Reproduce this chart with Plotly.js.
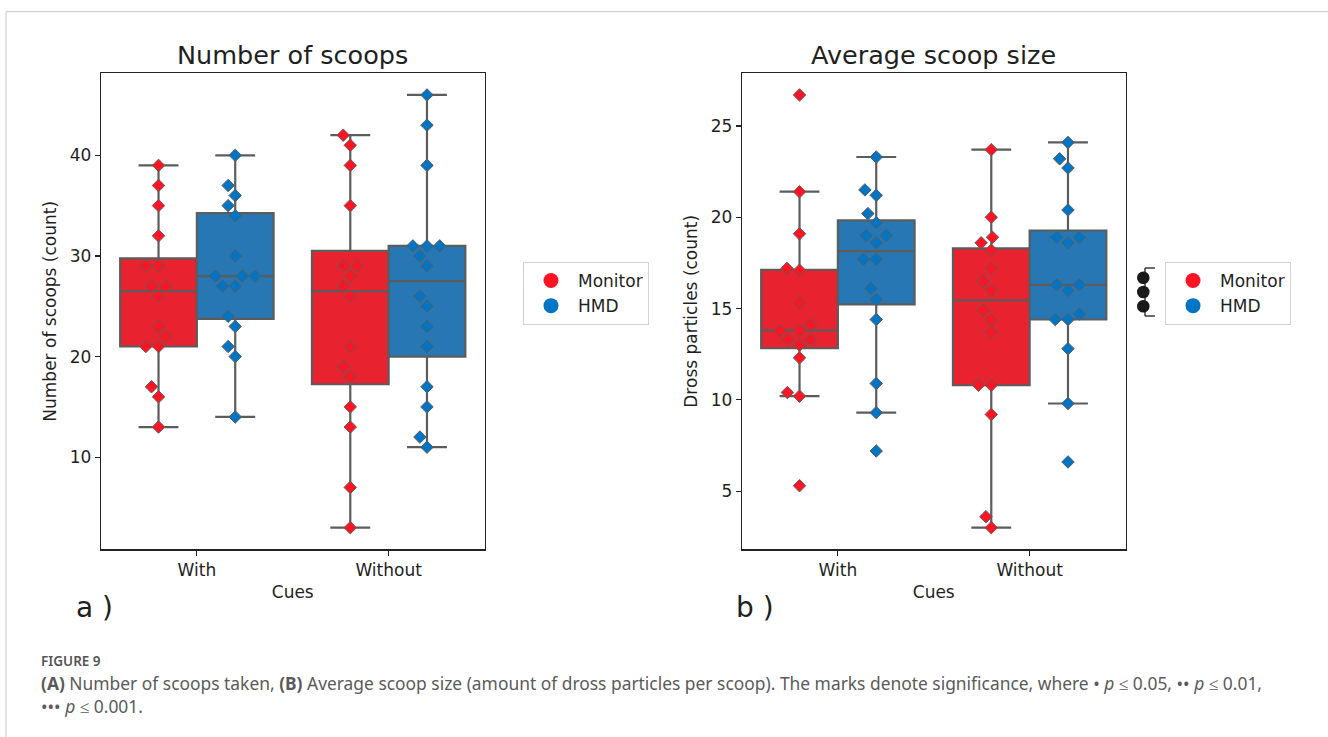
<!DOCTYPE html>
<html><head><meta charset="utf-8">
<script src="https://cdn.plot.ly/plotly-3.0.1.min.js"></script>
<style>html,body{margin:0;padding:0;background:#fff}#chart{width:1328px;height:737px}</style>
</head><body><div id="chart"></div>
<script>
// ---------------- data ----------------
const cues = ['With', 'Without'];
const groups = ['Monitor', 'HMD'];
// (a) Number of scoops
const scoopsMonitorWith    = [39,37,35,32,29,29,27,27,26,23,22,21,21,17,16,13];
const scoopsHmdWith        = [40,37,36,35,34,30,28,28,28,27,27,24,23,21,20,14];
const scoopsMonitorWithout = [42,41,39,35,29,29,28,27,26,21,19,18,15,13,7,3];
const scoopsHmdWithout     = [46,43,39,31,31,31,30,29,26,25,23,21,17,15,12,11];
// (b) Average scoop size (dross particles)
const sizeMonitorWith    = [26.7,21.4,19.1,17.2,17.1,15.3,14.1,13.8,13.8,13.3,13.3,13.0,12.3,10.4,10.2,5.3];
const sizeHmdWith        = [23.3,21.5,21.2,20.2,19.7,19.0,19.0,18.6,17.7,17.7,16.1,15.5,14.4,10.9,9.3,7.2];
const sizeMonitorWithout = [23.7,20.0,18.9,18.6,18.2,17.2,16.5,16.0,14.9,14.4,13.7,10.8,10.8,9.2,3.6,3.0];
const sizeHmdWithout     = [24.1,23.2,22.7,20.4,18.9,18.9,18.6,16.3,16.3,16.0,14.7,14.4,14.4,12.8,9.8,6.6];
const panelTitles = ['Number of scoops', 'Average scoop size'];
const yTitles = ['Number of scoops (count)', 'Dross particles (count)'];
const xTitle = 'Cues';
const panelLabels = ['a )', 'b )'];
const significanceMarksB = 3;   // ••• p <= 0.001
const yTicksA = [10, 20, 30, 40];
const yTicksB = [5, 10, 15, 20, 25];
const figureLabel = 'FIGURE 9';
const captionLines = [
  '<b>(A)</b> Number of scoops taken, <b>(B)</b> Average scoop size (amount of dross particles per scoop). The marks denote significance, where • <i>p</i> ≤ 0.05, •• <i>p</i> ≤ 0.01,',
  '••• <i>p</i> ≤ 0.001.'
];

// ---------------- style / layout constants ----------------
const W = 1328, H = 737;
const FONT = 'DejaVu Sans';
const CAPFONT = 'Noto Sans';
const TXT = '#1f1f1f';
const pointColors = ['#ff1424', '#0274c4'];
const boxColors = ['#e8222f', '#2677b4'];
const EDGE = '#5c5c5c';
const DODGE = 0.2, BOXW = 0.4;
const SWARM_D = 12.1; // px
const domXA = [101/W, 484.5/W], domXB = [742/W, 1125.5/W];
const domY = [(H-549.3)/H, (H-73.3)/H];
const XR = [-0.5, 1.5];
const FS = 17;

function padRange(arrs){
  const all = [].concat(...arrs);
  const mn = Math.min(...all), mx = Math.max(...all), p = (mx-mn)*0.05;
  return [mn-p, mx+p];
}
function pct(s, p){ const idx=(s.length-1)*p, lo=Math.floor(idx), hi=Math.ceil(idx); return s[lo]+(s[hi]-s[lo])*(idx-lo); }
function boxStats(vals){
  const s=[...vals].sort((a,b)=>a-b);
  const q1=pct(s,.25), med=pct(s,.5), q3=pct(s,.75), iqr=q3-q1;
  const lo=s.find(v=>v>=q1-1.5*iqr), hi=[...s].reverse().find(v=>v<=q3+1.5*iqr);
  return {q1,med,q3,lo,hi};
}
function swarm(vals, pxPerY, d){
  const order = vals.map((v,i)=>i).sort((a,b)=>vals[a]-vals[b]);
  const placed=[], off=new Array(vals.length);
  order.forEach(i=>{
    const y=vals[i]*pxPerY, nb=[];
    for(let k=placed.length-1;k>=0;k--){ if(y-placed[k].y < d) nb.unshift(placed[k]); else break; }
    let c=[0], lf=true;
    nb.forEach(n=>{ const dy=y-n.y, dx=Math.sqrt(Math.max(d*d-dy*dy,0))*1.05;
      if(lf) c.push(n.x-dx, n.x+dx); else c.push(n.x+dx, n.x-dx); lf=!lf; });
    c = c.map((v,j)=>({v,j})).sort((a,b)=>(Math.abs(a.v)-Math.abs(b.v))||(a.j-b.j)).map(o=>o.v);
    let x=c[0];
    if(nb.length){ for(const v of c){ if(nb.every(n=>(n.x-v)**2+(n.y-y)**2 >= d*d-1e-9)){x=v;break;} } }
    placed.push({x,y}); off[i]=x;
  });
  return off;
}

const panels = [
  {xa:'x', ya:'y', domX:domXA, data:[[scoopsMonitorWith, scoopsMonitorWithout],[scoopsHmdWith, scoopsHmdWithout]]},
  {xa:'x2', ya:'y2', domX:domXB, data:[[sizeMonitorWith, sizeMonitorWithout],[sizeHmdWith, sizeHmdWithout]]}
];
const traces = [];
panels.forEach((P, pi)=>{
  P.yr = padRange([].concat(...P.data));
  const plotW=(P.domX[1]-P.domX[0])*W, plotH=(domY[1]-domY[0])*H;
  const pxX = plotW/(XR[1]-XR[0]), pxY = plotH/(P.yr[1]-P.yr[0]);
  groups.forEach((g, gi)=>{
    const sgn = gi===0 ? -1 : 1;
    const st = P.data[gi].map(boxStats);
    traces.push({type:'box', xaxis:P.xa, yaxis:P.ya, name:g, showlegend:false,
      x: cues.map((c,ci)=>ci+sgn*DODGE), width:BOXW,
      q1:st.map(s=>s.q1), median:st.map(s=>s.med), q3:st.map(s=>s.q3),
      lowerfence:st.map(s=>s.lo), upperfence:st.map(s=>s.hi),
      boxpoints:false, whiskerwidth:0.52,
      fillcolor:boxColors[gi], line:{color:EDGE, width:2.2}, hoverinfo:'skip'});
  });
  groups.forEach((g, gi)=>{
    const sgn = gi===0 ? -1 : 1;
    const xs=[], ys=[];
    P.data[gi].forEach((vals, ci)=>{
      const off = swarm(vals, pxY, SWARM_D);
      vals.forEach((v,k)=>{ xs.push(ci+sgn*DODGE+off[k]/pxX); ys.push(v); });
    });
    traces.push({type:'scatter', mode:'markers', xaxis:P.xa, yaxis:P.ya, x:xs, y:ys, name:g,
      showlegend:false, cliponaxis:false,
      marker:{symbol:'diamond', size:9.6, color:pointColors[gi], line:{color:EDGE, width:1}}});
  });
  groups.forEach((g, gi)=>{
    traces.push({type:'scatter', mode:'markers', xaxis:P.xa, yaxis:P.ya, x:[null], y:[null], name:g,
      legend: pi===0 ? 'legend' : 'legend2', legendgroup:'g'+pi+gi, showlegend:true,
      marker:{symbol:'circle', size:15, color:pointColors[gi]}});
  });
});

function xaxisDef(P, anchor){
  return {domain:P.domX, anchor:anchor, range:XR, tickvals:cues.map((c,i)=>i), ticktext:cues,
    showline:true, mirror:true, linecolor:'#222', linewidth:1.2, ticks:'outside', ticklen:5, tickwidth:1.2, tickcolor:'#222',
    showgrid:false, zeroline:false, tickfont:{family:FONT, size:FS, color:TXT},
    title:{text:xTitle, font:{family:FONT, size:FS, color:TXT}, standoff:7}};
}
function yaxisDef(P, anchor, tv, title){
  return {domain:domY, anchor:anchor, range:P.yr, tickvals:tv,
    showline:true, mirror:true, linecolor:'#222', linewidth:1.2, ticks:'outside', ticklen:5, tickwidth:1.2, tickcolor:'#222',
    showgrid:false, zeroline:false, tickfont:{family:FONT, size:FS, color:TXT},
    title:{text:title, font:{family:FONT, size:FS, color:TXT}, standoff:8}};
}
const px = x=>x/W, py = y=>1-y/H;
const legendBase = {bgcolor:'#fff', bordercolor:'#d0d0d0', borderwidth:1, font:{family:FONT, size:FS, color:TXT},
  xanchor:'left', yanchor:'top', itemwidth:44, tracegroupgap:1, traceorder:'normal'};

const annotations = [];
panels.forEach((P,pi)=>{
  annotations.push({xref:'paper', yref:'paper', x:(P.domX[0]+P.domX[1])/2, y:py(55), xanchor:'center', yanchor:'middle',
    text:panelTitles[pi], showarrow:false, font:{family:FONT, size:25.5, color:TXT}});
  annotations.push({xref:'paper', yref:'paper', x:px(pi===0?74:734), y:py(607), xanchor:'left', yanchor:'middle',
    text:panelLabels[pi], showarrow:false, font:{family:FONT, size:28, color:TXT}});
});
annotations.push({xref:'paper', yref:'paper', x:px(39), y:py(661), xanchor:'left', yanchor:'middle', showarrow:false,
  text:figureLabel, font:{family:CAPFONT, size:13.5, color:'#555', weight:600}});
captionLines.forEach((t,i)=>{
  annotations.push({xref:'paper', yref:'paper', x:px(39), y:py(682.5+23*i), xanchor:'left', yanchor:'middle', align:'left', showarrow:false,
    text:t, font:{family:CAPFONT, size:17.4, color:'#5a5a5a'}});
});

const shapes = [
  {type:'line', xref:'paper', yref:'paper', x0:px(6), x1:1, y0:py(11.7), y1:py(11.7), line:{color:'#c8c8c8', width:1}},
  {type:'line', xref:'paper', yref:'paper', x0:px(6), x1:px(6), y0:py(11.7), y1:0, line:{color:'#c8c8c8', width:1}}
];
// significance bracket for panel b
const bTop=268, bBot=316, bx=1145;
shapes.push({type:'line', xref:'paper', yref:'paper', x0:px(bx), x1:px(bx), y0:py(bTop), y1:py(bBot), line:{color:'#1a1a1a', width:1.3}});
shapes.push({type:'line', xref:'paper', yref:'paper', x0:px(bx), x1:px(bx+10), y0:py(bTop), y1:py(bTop), line:{color:'#1a1a1a', width:1.3}});
shapes.push({type:'line', xref:'paper', yref:'paper', x0:px(bx), x1:px(bx+10), y0:py(bBot), y1:py(bBot), line:{color:'#1a1a1a', width:1.3}});
for(let k=0;k<significanceMarksB;k++){
  const cy = (bTop+bBot)/2 + (k-(significanceMarksB-1)/2)*14.3, r=6.3, cx=1143.3;
  shapes.push({type:'circle', xref:'paper', yref:'paper', x0:px(cx-r), x1:px(cx+r), y0:py(cy+r), y1:py(cy-r),
    fillcolor:'#1a1a1a', line:{color:'#1a1a1a', width:0}});
}

const layout = {
  width:W, height:H, margin:{l:0,r:0,t:0,b:0}, paper_bgcolor:'#fff', plot_bgcolor:'#fff',
  font:{family:FONT, color:TXT}, boxmode:'overlay', showlegend:true,
  xaxis:xaxisDef(panels[0],'y'), yaxis:yaxisDef(panels[0],'x', yTicksA, yTitles[0]),
  xaxis2:xaxisDef(panels[1],'y2'), yaxis2:yaxisDef(panels[1],'x2', yTicksB, yTitles[1]),
  legend:Object.assign({}, legendBase, {x:px(523), y:py(262)}),
  legend2:Object.assign({}, legendBase, {x:px(1165), y:py(262)}),
  annotations, shapes
};
Plotly.newPlot('chart', traces, layout, {displayModeBar:false, staticPlot:true});
</script></body></html>
